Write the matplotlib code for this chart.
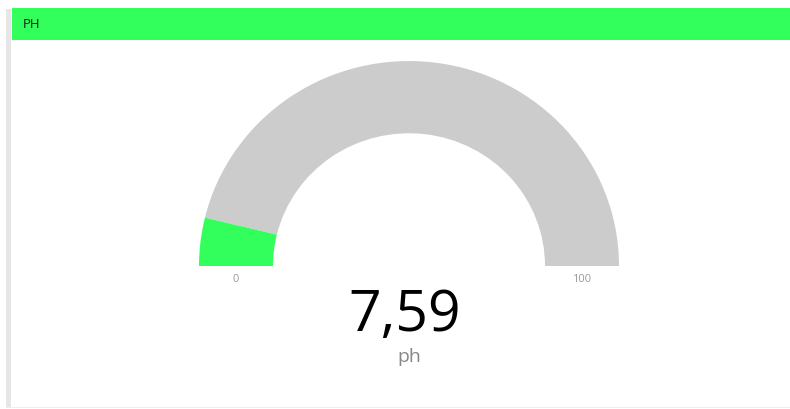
import matplotlib
matplotlib.use("Agg")
import matplotlib.pyplot as plt
from matplotlib.patches import Wedge, Rectangle
from matplotlib.transforms import Affine2D

plt.rcParams['font.family'] = ['Open Sans', 'DejaVu Sans']

# Gauge data
title = "PH"
unit = "ph"
value = 7.59
gauge_min = 0
gauge_max = 100

W, H = 790, 410
fig = plt.figure(figsize=(W / 100, H / 100), dpi=100)
ax = fig.add_axes([0, 0, 1, 1])
ax.set_xlim(0, W)
ax.set_ylim(0, H)
ax.axis("off")

green = "#33ff5c"
track = "#cccccc"

# Card frame: left border, bottom border and header bar
ax.add_patch(Rectangle((6, 2), 5, 398, color="#e6e6e6", lw=0))
ax.add_patch(Rectangle((6, 1), W, 1.2, color="#eeeeee", lw=0))
ax.add_patch(Rectangle((12, H - 41), W - 12, 32, color=green, lw=0))
ax.text(23, H - 25, title, fontsize=9.5, color="#1a1a1a", va="center", ha="left")

# Gauge arc (slightly flattened vertically)
cx, cy = 409, H - 267
r_out, r_in = 210, 136
sy = 0.976
squash = Affine2D().translate(-cx, -cy).scale(1, sy).translate(cx, cy) + ax.transData
frac = (value - gauge_min) / (gauge_max - gauge_min)
split = 180 - 180 * frac
ax.add_patch(Wedge((cx, cy), r_out, 0, split, width=r_out - r_in, color=track,
                   lw=0, transform=squash))
ax.add_patch(Wedge((cx, cy), r_out, split, 180, width=r_out - r_in, color=green,
                   lw=0, transform=squash))

# Min / max labels
ax.text(cx - (r_out + r_in) / 2, cy - 12, str(gauge_min), fontsize=8,
        color="#999999", ha="center", va="center")
ax.text(cx + (r_out + r_in) / 2, cy - 12, str(gauge_max), fontsize=8,
        color="#999999", ha="center", va="center")

# Value and unit
ax.text(cx - 4, H - 317, f"{value:.2f}".replace(".", ","), fontsize=41,
        color="#000000", ha="center", va="center")
ax.text(cx, H - 357, unit, fontsize=14, color="#888888", ha="center", va="center")

fig.savefig("out.png", dpi=100, facecolor="white")
